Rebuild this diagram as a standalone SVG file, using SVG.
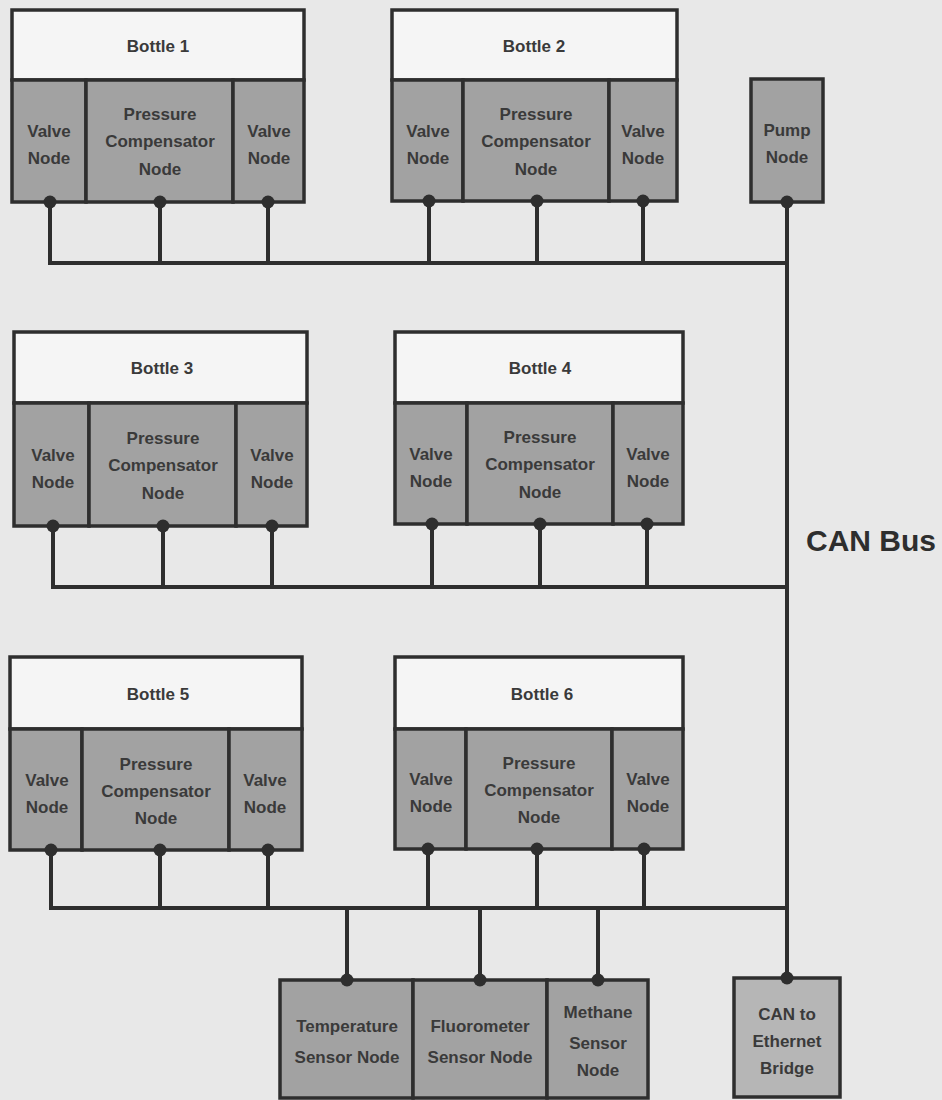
<svg xmlns="http://www.w3.org/2000/svg" width="942" height="1100" viewBox="0 0 942 1100">
<style>
.hdr{fill:#f5f5f5;stroke:#2e2e2e;stroke-width:3.5}
.nd{fill:#a2a2a2;stroke:#2e2e2e;stroke-width:3.5}
.br{fill:#b6b6b6;stroke:#2e2e2e;stroke-width:3.5}
.t{font-family:"Liberation Sans",Arial,sans-serif;font-weight:bold;font-size:17px;fill:#3a3a3a;text-anchor:middle}
.big{font-family:"Liberation Sans",Arial,sans-serif;font-weight:bold;font-size:30px;fill:#2e2e2e}
.bus{stroke:#2e2e2e;stroke-width:4;fill:none}
.dot{fill:#2e2e2e}
</style>
<rect width="942" height="1100" fill="#e8e8e8"/>
<g id="bottle1">
<rect class="hdr" x="12" y="10" width="292" height="70"/>
<text class="t" x="158" y="52">Bottle 1</text>
<rect class="nd" x="12" y="80" width="74" height="122"/>
<rect class="nd" x="86" y="80" width="147" height="122"/>
<rect class="nd" x="233" y="80" width="71" height="122"/>
<text class="t" x="49" y="137">Valve</text><text class="t" x="49" y="164">Node</text>
<text class="t" x="160" y="120">Pressure</text><text class="t" x="160" y="147">Compensator</text><text class="t" x="160" y="175">Node</text>
<text class="t" x="269" y="137">Valve</text><text class="t" x="269" y="164">Node</text>
</g>
<g id="bottle2">
<rect class="hdr" x="392" y="10" width="285" height="70"/>
<text class="t" x="534" y="52">Bottle 2</text>
<rect class="nd" x="392" y="80" width="71" height="121"/>
<rect class="nd" x="463" y="80" width="146" height="121"/>
<rect class="nd" x="609" y="80" width="68" height="121"/>
<text class="t" x="428" y="137">Valve</text><text class="t" x="428" y="164">Node</text>
<text class="t" x="536" y="120">Pressure</text><text class="t" x="536" y="147">Compensator</text><text class="t" x="536" y="175">Node</text>
<text class="t" x="643" y="137">Valve</text><text class="t" x="643" y="164">Node</text>
</g>
<g id="pump">
<rect class="nd" x="751" y="79" width="72" height="123"/>
<text class="t" x="787" y="136">Pump</text><text class="t" x="787" y="163">Node</text>
</g>
<g id="bottle3">
<rect class="hdr" x="14" y="332" width="293" height="71"/>
<text class="t" x="162" y="374">Bottle 3</text>
<rect class="nd" x="14" y="403" width="75" height="123"/>
<rect class="nd" x="89" y="403" width="147" height="123"/>
<rect class="nd" x="236" y="403" width="71" height="123"/>
<text class="t" x="53" y="461">Valve</text><text class="t" x="53" y="488">Node</text>
<text class="t" x="163" y="444">Pressure</text><text class="t" x="163" y="471">Compensator</text><text class="t" x="163" y="499">Node</text>
<text class="t" x="272" y="461">Valve</text><text class="t" x="272" y="488">Node</text>
</g>
<g id="bottle4">
<rect class="hdr" x="395" y="332" width="288" height="71"/>
<text class="t" x="540" y="374">Bottle 4</text>
<rect class="nd" x="395" y="403" width="72" height="121"/>
<rect class="nd" x="467" y="403" width="146" height="121"/>
<rect class="nd" x="613" y="403" width="70" height="121"/>
<text class="t" x="431" y="460">Valve</text><text class="t" x="431" y="487">Node</text>
<text class="t" x="540" y="443">Pressure</text><text class="t" x="540" y="470">Compensator</text><text class="t" x="540" y="498">Node</text>
<text class="t" x="648" y="460">Valve</text><text class="t" x="648" y="487">Node</text>
</g>
<g id="bottle5">
<rect class="hdr" x="10" y="657" width="292" height="72"/>
<text class="t" x="158" y="700">Bottle 5</text>
<rect class="nd" x="10" y="729" width="72" height="121"/>
<rect class="nd" x="82" y="729" width="147" height="121"/>
<rect class="nd" x="229" y="729" width="73" height="121"/>
<text class="t" x="47" y="786">Valve</text><text class="t" x="47" y="813">Node</text>
<text class="t" x="156" y="770">Pressure</text><text class="t" x="156" y="797">Compensator</text><text class="t" x="156" y="824">Node</text>
<text class="t" x="265" y="786">Valve</text><text class="t" x="265" y="813">Node</text>
</g>
<g id="bottle6">
<rect class="hdr" x="395" y="657" width="288" height="72"/>
<text class="t" x="542" y="700">Bottle 6</text>
<rect class="nd" x="395" y="729" width="71" height="120"/>
<rect class="nd" x="466" y="729" width="146" height="120"/>
<rect class="nd" x="612" y="729" width="71" height="120"/>
<text class="t" x="431" y="785">Valve</text><text class="t" x="431" y="812">Node</text>
<text class="t" x="539" y="769">Pressure</text><text class="t" x="539" y="796">Compensator</text><text class="t" x="539" y="823">Node</text>
<text class="t" x="648" y="785">Valve</text><text class="t" x="648" y="812">Node</text>
</g>
<g id="sensors">
<rect class="nd" x="280" y="980" width="133" height="118"/>
<rect class="nd" x="413" y="980" width="134" height="118"/>
<rect class="nd" x="547" y="980" width="101" height="118"/>
<text class="t" x="347" y="1032">Temperature</text><text class="t" x="347" y="1063">Sensor Node</text>
<text class="t" x="480" y="1032">Fluorometer</text><text class="t" x="480" y="1063">Sensor Node</text>
<text class="t" x="598" y="1018">Methane</text><text class="t" x="598" y="1049">Sensor</text><text class="t" x="598" y="1076">Node</text>
</g>
<g id="bridge">
<rect class="br" x="734" y="978" width="106" height="119"/>
<text class="t" x="787" y="1020">CAN to</text><text class="t" x="787" y="1047">Ethernet</text><text class="t" x="787" y="1074">Bridge</text>
</g>
<text class="big" x="806" y="551">CAN Bus</text>
<g id="connectors">
<path class="bus" d="M50 202V263H787M160 202V263M268 202V263M429 202V263M537 202V263M643 202V263"/>
<path class="bus" d="M53 526V587H787M163 526V587M272 526V587M432 524V587M540 524V587M647 524V587"/>
<path class="bus" d="M51 850V908H787M160 850V908M268 850V908M428 849V908M537 849V908M644 849V908"/>
<path class="bus" d="M347 908V980M480 908V980M598 908V980"/>
<path class="bus" d="M787 202V978"/>
<g class="dot">
<circle cx="50" cy="202" r="6.5"/><circle cx="160" cy="202" r="6.5"/><circle cx="268" cy="202" r="6.5"/>
<circle cx="429" cy="201" r="6.5"/><circle cx="537" cy="201" r="6.5"/><circle cx="643" cy="201" r="6.5"/>
<circle cx="787" cy="202" r="6.5"/>
<circle cx="53" cy="526" r="6.5"/><circle cx="163" cy="526" r="6.5"/><circle cx="272" cy="526" r="6.5"/>
<circle cx="432" cy="524" r="6.5"/><circle cx="540" cy="524" r="6.5"/><circle cx="647" cy="524" r="6.5"/>
<circle cx="51" cy="850" r="6.5"/><circle cx="160" cy="850" r="6.5"/><circle cx="268" cy="850" r="6.5"/>
<circle cx="428" cy="849" r="6.5"/><circle cx="537" cy="849" r="6.5"/><circle cx="644" cy="849" r="6.5"/>
<circle cx="347" cy="980" r="6.5"/><circle cx="480" cy="980" r="6.5"/><circle cx="598" cy="980" r="6.5"/>
<circle cx="787" cy="978" r="6.5"/>
</g>
</g>
</svg>
